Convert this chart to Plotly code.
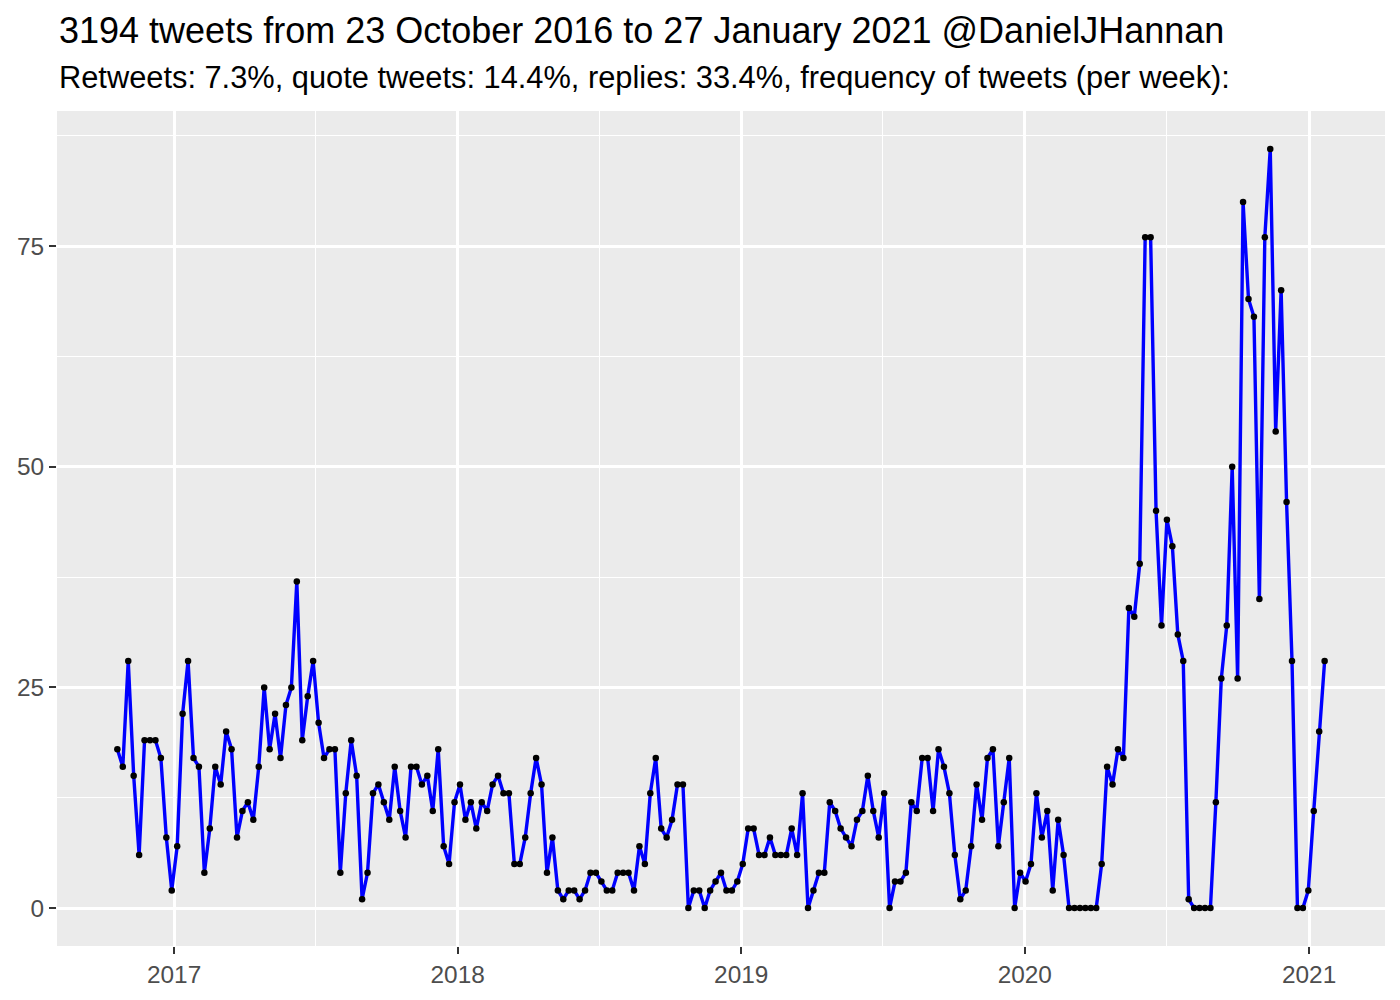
import pandas as pd
import plotly.graph_objects as go

TITLE = "3194 tweets from 23 October 2016 to 27 January 2021 @DanielJHannan"
SUBTITLE = "Retweets: 7.3%, quote tweets: 14.4%, replies: 33.4%, frequency of tweets (per week):"

# weekly counts
first_week = "2016-10-20"
tweets_per_week = [
    18, 16, 28, 15, 6, 19, 19, 19, 17, 8,
    2, 7, 22, 28, 17, 16, 4, 9, 16, 14,
    20, 18, 8, 11, 12, 10, 16, 25, 18, 22,
    17, 23, 25, 37, 19, 24, 28, 21, 17, 18,
    18, 4, 13, 19, 15, 1, 4, 13, 14, 12,
    10, 16, 11, 8, 16, 16, 14, 15, 11, 18,
    7, 5, 12, 14, 10, 12, 9, 12, 11, 14,
    15, 13, 13, 5, 5, 8, 13, 17, 14, 4,
    8, 2, 1, 2, 2, 1, 2, 4, 4, 3,
    2, 2, 4, 4, 4, 2, 7, 5, 13, 17,
    9, 8, 10, 14, 14, 0, 2, 2, 0, 2,
    3, 4, 2, 2, 3, 5, 9, 9, 6, 6,
    8, 6, 6, 6, 9, 6, 13, 0, 2, 4,
    4, 12, 11, 9, 8, 7, 10, 11, 15, 11,
    8, 13, 0, 3, 3, 4, 12, 11, 17, 17,
    11, 18, 16, 13, 6, 1, 2, 7, 14, 10,
    17, 18, 7, 12, 17, 0, 4, 3, 5, 13,
    8, 11, 2, 10, 6, 0, 0, 0, 0, 0,
    0, 5, 16, 14, 18, 17, 34, 33, 39, 76,
    76, 45, 32, 44, 41, 31, 28, 1, 0, 0,
    0, 0, 12, 26, 32, 50, 26, 80, 69, 67,
    35, 76, 86, 54, 70, 46, 28, 0, 0, 2,
    11, 20, 28,
]
y_ticks = [0, 25, 50, 75]
x_ticks = ["2017-01-01", "2018-01-01", "2019-01-01", "2020-01-01", "2021-01-01"]
x_tick_labels = ["2017", "2018", "2019", "2020", "2021"]

weeks = pd.date_range(first_week, periods=len(tweets_per_week), freq="7D")

# ggplot-style 5% expansion
span = weeks[-1] - weeks[0]
x_range = [weeks[0] - span * 0.05, weeks[-1] + span * 0.05]
y_span = max(tweets_per_week) - min(tweets_per_week)
y_range = [min(tweets_per_week) - y_span * 0.05, max(tweets_per_week) + y_span * 0.05]

FONT = "Liberation Sans, Arial, Helvetica, sans-serif"
PANEL = "#EBEBEB"

fig = go.Figure()
fig.add_trace(go.Scatter(
    x=weeks, y=tweets_per_week,
    mode="lines+markers",
    line=dict(color="#0000FF", width=3.4),
    marker=dict(color="black", size=6.5),
    showlegend=False,
))

fig.add_annotation(
    text=TITLE, xref="paper", yref="paper", x=0, y=1,
    xanchor="left", yanchor="middle", yshift=81, showarrow=False,
    font=dict(size=36, color="black", family=FONT),
)
fig.add_annotation(
    text=SUBTITLE, xref="paper", yref="paper", x=0, y=1,
    xanchor="left", yanchor="middle", yshift=34, showarrow=False,
    font=dict(size=30.8, color="black", family=FONT),
)

axis_common = dict(
    showline=False,
    zeroline=False,
    gridcolor="white",
    gridwidth=2.8,
    ticks="outside",
    ticklen=7,
    tickwidth=1.5,
    tickcolor="#333333",
    tickfont=dict(size=24.4, color="#4D4D4D", family=FONT),
)

fig.update_layout(
    width=1400,
    height=1000,
    margin=dict(l=57, r=15, t=111, b=52),
    paper_bgcolor="white",
    plot_bgcolor=PANEL,
    font=dict(family=FONT),
    xaxis=dict(
        type="date",
        range=x_range,
        tickvals=x_ticks,
        ticktext=x_tick_labels,
        minor=dict(dtick="M6", tick0="2016-07-02", showgrid=True,
                   gridcolor="white", gridwidth=1.4, ticks=""),
        **axis_common,
    ),
    yaxis=dict(
        range=y_range,
        tickvals=y_ticks,
        minor=dict(tickvals=[12.5, 37.5, 62.5, 87.5], showgrid=True,
                   gridcolor="white", gridwidth=1.4, ticks=""),
        **axis_common,
    ),
)

# drop the browser's default page margin so the figure sits at (0, 0)
fig.write_html(
    "out.html",
    config={"displayModeBar": False},
    post_script="document.body.style.margin='0';",
)
